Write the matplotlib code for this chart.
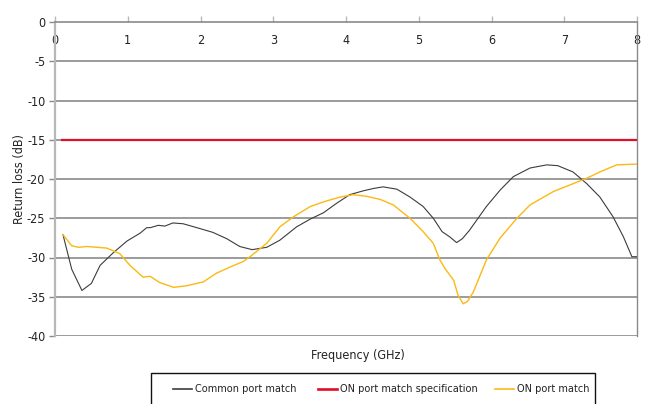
import matplotlib
matplotlib.use("Agg")
import matplotlib.pyplot as plt
from matplotlib.patches import Rectangle
from matplotlib.lines import Line2D

plt.rcParams["font.family"] = ["DejaVu Sans Condensed", "DejaVu Sans"]
plt.rcParams["font.stretch"] = "condensed"

# 数据：从参考图读取
common_freq = [0.11, 0.23, 0.37, 0.50, 0.62, 0.80, 0.99, 1.17, 1.26, 1.31, 1.42, 1.51,
               1.62, 1.76, 1.95, 2.17, 2.36, 2.54, 2.71, 2.91, 3.09, 3.32, 3.51, 3.69,
               3.87, 4.05, 4.24, 4.38, 4.51, 4.70, 4.88, 5.06, 5.20, 5.32, 5.43, 5.52,
               5.60, 5.70, 5.93, 6.12, 6.30, 6.53, 6.76, 6.91, 7.12, 7.31, 7.49, 7.67,
               7.81, 7.93, 8.00]
common_loss = [-27.1, -31.5, -34.2, -33.3, -31.0, -29.4, -27.9, -26.9, -26.2, -26.2, -25.9, -26.0,
               -25.6, -25.7, -26.2, -26.8, -27.6, -28.6, -29.0, -28.7, -27.8, -26.1, -25.1, -24.3,
               -23.1, -22.0, -21.5, -21.2, -21.0, -21.3, -22.3, -23.5, -25.0, -26.7, -27.4, -28.1,
               -27.6, -26.5, -23.5, -21.4, -19.7, -18.6, -18.2, -18.3, -19.1, -20.6, -22.3, -24.8,
               -27.3, -29.9, -29.9]

on_freq = [0.11, 0.23, 0.32, 0.44, 0.71, 0.89, 1.03, 1.21, 1.31, 1.44, 1.63, 1.81,
           2.04, 2.22, 2.41, 2.59, 2.68, 2.91, 3.09, 3.28, 3.51, 3.73, 3.92, 4.10,
           4.28, 4.47, 4.65, 4.88, 5.06, 5.20, 5.29, 5.36, 5.48, 5.54, 5.61, 5.67,
           5.75, 5.93, 6.12, 6.35, 6.53, 6.85, 7.12, 7.31, 7.49, 7.72, 8.00]
on_loss = [-27.1, -28.5, -28.7, -28.6, -28.8, -29.5, -31.0, -32.5, -32.4, -33.2, -33.8, -33.6,
           -33.1, -32.0, -31.2, -30.5, -29.9, -28.2, -26.1, -24.8, -23.5, -22.8, -22.3, -22.0,
           -22.2, -22.6, -23.3, -25.0, -26.7, -28.2, -30.3, -31.4, -32.9, -34.8, -35.9, -35.6,
           -34.4, -30.3, -27.5, -25.0, -23.3, -21.6, -20.6, -19.9, -19.1, -18.2, -18.1]

spec_freq = [0.1, 8.0]
spec_loss = [-15, -15]

x_ticks = [0, 1, 2, 3, 4, 5, 6, 7, 8]
y_ticks = [0, -5, -10, -15, -20, -25, -30, -35, -40]

series_names = ["Common port match", "ON port match specification", "ON port match"]
series_colors = ["#3c3c3c", "#e0102a", "#fbb912"]
series_widths = [0.8, 1.6, 1.0]

W, H = 648, 404
fig = plt.figure(figsize=(W / 100, H / 100), dpi=100)
ax = fig.add_axes([55 / W, 1 - 336 / H, 582 / W, 314 / H])

grid_c = "#8a8a8a"
for y in y_ticks[1:]:
    ax.axhline(y, color=grid_c, lw=1.2, zorder=1)

for (xs, ys), c, lw in zip([(common_freq, common_loss), (spec_freq, spec_loss), (on_freq, on_loss)],
                           series_colors, series_widths):
    ax.plot(xs, ys, color=c, lw=lw, zorder=3)

ax.set_xlim(0, 8)
ax.set_ylim(-40, 0)

ax.spines["bottom"].set_position(("data", 0))
ax.spines["bottom"].set_color(grid_c)
ax.spines["bottom"].set_linewidth(1.2)
ax.spines["top"].set_visible(False)
ax.spines["left"].set_color("#b8b8b8")
ax.spines["left"].set_linewidth(1.6)
ax.spines["right"].set_color(grid_c)
ax.spines["right"].set_linewidth(1.0)

ax.set_xticks(x_ticks)
ax.set_yticks(y_ticks)
ax.set_yticklabels([str(v) for v in y_ticks])
ax.tick_params(axis="x", direction="in", length=4, width=1, color="#b8b8b8",
               pad=9, labelsize=9, labelcolor="#222222")
ax.tick_params(axis="y", direction="out", length=4, width=1, color=grid_c,
               pad=3, labelsize=9, labelcolor="#222222")

fig.text(20 / W, 1 - 179 / H, "Return loss (dB)", rotation=90, ha="center", va="center",
         fontsize=9, color="#222222")
fig.text(358 / W, 1 - 355 / H, "Frequency (GHz)", ha="center", va="center",
         fontsize=9, color="#222222")

# 图例框（底部超出画布）
fig.patches.append(Rectangle((151 / W, -0.05), 444 / W, 0.05 + 1 - 373 / H,
                             transform=fig.transFigure, fill=False, ec="#111111", lw=1.0))
legend_x = [173, 318, 495]
ly = 1 - 389 / H
for x0, name, c, lw in zip(legend_x, series_names, series_colors, series_widths):
    fig.lines.append(Line2D([x0 / W, (x0 + 19) / W], [ly, ly], transform=fig.transFigure,
                            color=c, lw=max(lw, 1.0) * 1.2))
    fig.text((x0 + 22) / W, ly, name, ha="left", va="center", fontsize=7.8, color="#222222")

fig.savefig("out.png", dpi=100)
